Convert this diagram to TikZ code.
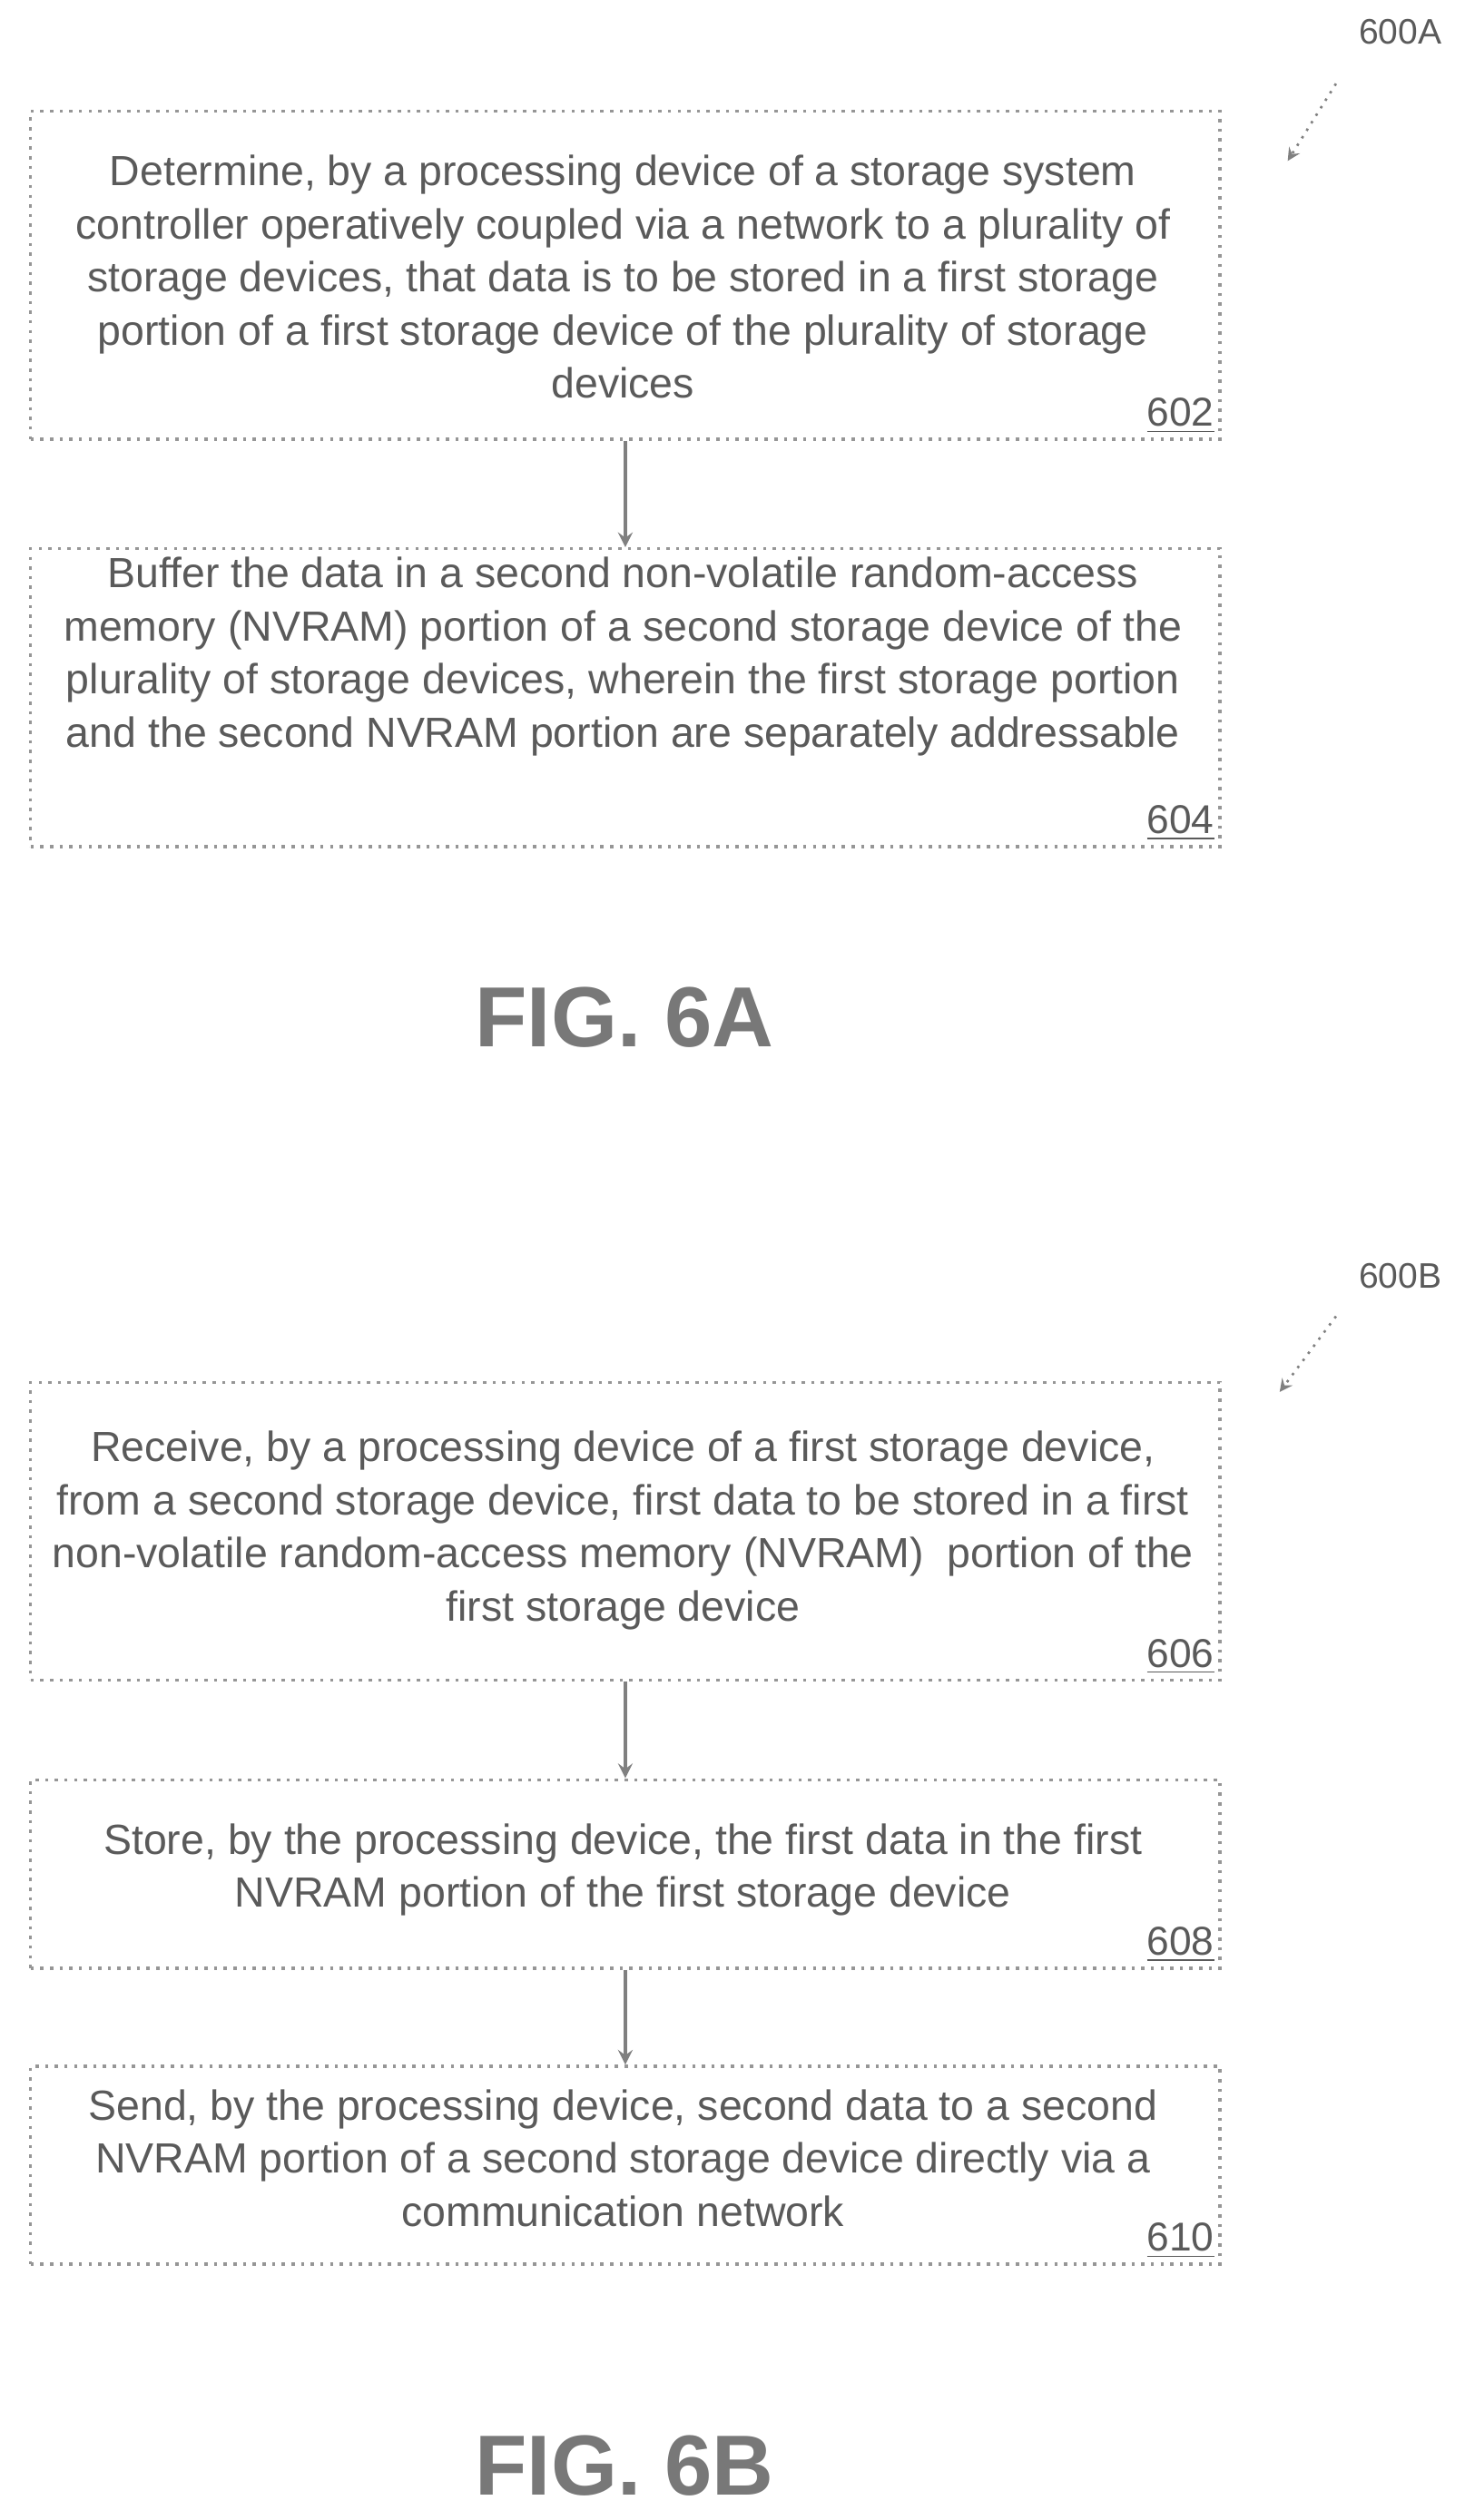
\documentclass[tikz,border=0pt]{standalone}
\usepackage{fontspec}
\setmainfont{Liberation Sans}
\usetikzlibrary{positioning}
\tikzset{every picture/.style={line width=0.75pt}}
\tikzset{stepbox/.style={draw={rgb,255:red,150;green,150;blue,150},dotted,line width=1pt,minimum width=369.5pt,inner sep=0pt,anchor=north west},
 steptext/.style={align=center,font=\fontsize{13.1}{16.5}\selectfont,text={rgb,255:red,90;green,90;blue,90},inner sep=0pt},
 stepnum/.style={font=\fontsize{12.5}{14}\selectfont,text={rgb,255:red,90;green,90;blue,90},anchor=south east,inner sep=2pt},
 figlabel/.style={font=\fontsize{26.5}{30}\selectfont\bfseries,text={rgb,255:red,120;green,120;blue,120}}}

\begin{document}
\begin{tikzpicture}[x=0.5pt,y=0.5pt,yscale=-1,xscale=1]
\useasboundingbox (0,0) rectangle (910,1566);

% FIG. 6A
\node (ref600A) at (870,20) [font=\fontsize{11}{12}\selectfont,text={rgb,255:red,90;green,90;blue,90}] {600A};
\coordinate (tip600A) at (800,100);
\draw [dotted,-stealth,gray] (830,52) -- (tip600A);

\node (b602) [stepbox,minimum height=102pt] at (18,68) {};
\node [steptext] at (387,172) {Determine, by a processing device of a storage system\\ controller operatively coupled via a network to a plurality of\\ storage devices, that data is to be stored in a first storage\\ portion of a first storage device of the plurality of storage\\ devices};
\node [stepnum] at (b602.south east) {\underline{602}};

\node (b604) [stepbox,minimum height=92.5pt] at (18,340) {};
\node [steptext] at (387,408) {Buffer the data in a second non-volatile random-access\\ memory (NVRAM) portion of a second storage device of the\\ plurality of storage devices, wherein the first storage portion\\ and the second NVRAM portion are separately addressable};
\node [stepnum] at (b604.south east) {\underline{604}};

\draw [-stealth,gray,line width=1pt] (b602.south) -- (b604.north);

\node (fig6a) [figlabel] at (388,632) {FIG. 6A};

% FIG. 6B
\node (ref600B) at (870,793) [font=\fontsize{11}{12}\selectfont,text={rgb,255:red,90;green,90;blue,90}] {600B};
\coordinate (tip600B) at (795,865);
\draw [dotted,-stealth,gray] (830,818) -- (tip600B);

\node (b606) [stepbox,minimum height=92.5pt] at (18,858) {};
\node [steptext] at (387,951) {Receive, by a processing device of a first storage device,\\ from a second storage device, first data to be stored in a first\\ non-volatile random-access memory (NVRAM)~ portion of the\\ first storage device};
\node [stepnum] at (b606.south east) {\underline{606}};

\node (b608) [stepbox,minimum height=58.5pt] at (18,1105) {};
\node [steptext] at (387,1162) {Store, by the processing device, the first data in the first\\ NVRAM portion of the first storage device};
\node [stepnum] at (b608.south east) {\underline{608}};

\node (b610) [stepbox,minimum height=61.5pt] at (18,1283) {};
\node [steptext] at (387,1341) {Send, by the processing device, second data to a second\\ NVRAM portion of a second storage device directly via a\\ communication network};
\node [stepnum] at (b610.south east) {\underline{610}};

\draw [-stealth,gray,line width=1pt] (b606.south) -- (b608.north);
\draw [-stealth,gray,line width=1pt] (b608.south) -- (b610.north);

\node (fig6b) [figlabel] at (388,1532) {FIG. 6B};

\end{tikzpicture}
\end{document}
